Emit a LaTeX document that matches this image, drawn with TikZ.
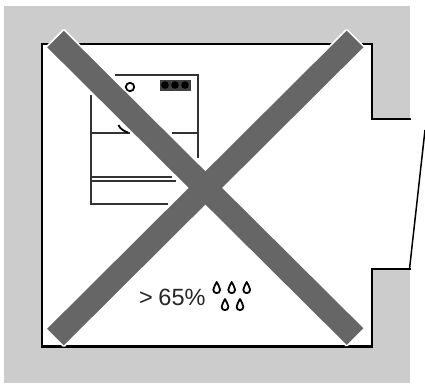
\documentclass[tikz,border=0pt]{standalone}
\usepackage{fontspec}
\setmainfont{Liberation Sans}
\definecolor{wallgray}{gray}{0.80}
\definecolor{bandgray}{gray}{0.40}
\tikzset{
  wall/.style={draw=black,line width=2.6pt,line cap=rect,line join=miter},
  thinline/.style={draw=black!80,line width=1.3pt},
  halo/.style={draw=white,line width=3.4pt,line join=round},
  band/.style={fill=bandgray,draw=none},
  drop/.pic={\draw[black,line width=1.8pt,line join=round] (0,-6) .. controls (-0.8,-3) and (-3.4,-1.5) .. (-3.4,1.8) .. controls (-3.4,6.2) and (3.4,6.2) .. (3.4,1.8) .. controls (3.4,-1.5) and (0.8,-3) .. (0,-6) -- cycle;}
}
\begin{document}
\begin{tikzpicture}[x=1pt,y=-1pt]
\useasboundingbox (0,0) rectangle (425,383);
\fill[white] (0,0) rectangle (425,383);
\fill[wallgray] (4,6) rectangle (410,383);
\fill[white] (42,44) -- (372,44) -- (372,119) -- (410,119) -- (410,269) -- (372,269) -- (372,346.5) -- (42,346.5) -- cycle;
\draw[wall] (410,119) -- (372,119) -- (372,44) -- (42,44) -- (42,346.5) -- (372,346.5) -- (372,269) -- (410,269);
\coordinate (hinge) at (409.5,269);
\coordinate (doorend) at (425,130);
\draw[black,line width=1.5pt] (hinge) -- (doorend);
% machine
\draw[thinline] (91,95) -- (91,204) -- (168,204);
\draw[thinline] (115,75) -- (198,75) -- (198,158);
\draw[thinline] (91,133) -- (130,133);
\draw[thinline] (172,133) -- (198,133);
\draw[thinline] (92,177) -- (172,177);
\draw[thinline] (91,181) -- (176,181);
\draw[black,line width=1.8pt] (130,87) circle (4.2);
\draw[black,line width=1.8pt] (118.5,125) .. controls (120,129) and (124,131) .. (128,132.5);
\fill[black!75] (160,79.5) rectangle (191,90.5);
\fill[black] (165,85) circle (3.8) (175,85) circle (3.8) (185,85) circle (3.8);
% X
\path[halo] (63.8,30.7) -- (47.2,47.3) -- (346.7,344.8) -- (363.3,328.2) -- cycle;
\path[halo] (346.7,30.7) -- (363.3,47.3) -- (63.8,345.3) -- (47.2,328.7) -- cycle;
\path[band] (63.8,30.7) -- (47.2,47.3) -- (346.7,344.8) -- (363.3,328.2) -- cycle;
\path[band] (346.7,30.7) -- (363.3,47.3) -- (63.8,345.3) -- (47.2,328.7) -- cycle;
\node[font=\fontsize{23.5}{26}\selectfont,text=black!85,inner sep=0pt,anchor=west] (txt) at (139,297) {>\kern-1pt\ 65\%};
\path (216.7,288) pic {drop} (231.7,288) pic {drop} (246.7,288) pic {drop} (225,305) pic {drop} (240,305) pic {drop};
\end{tikzpicture}
\end{document}
